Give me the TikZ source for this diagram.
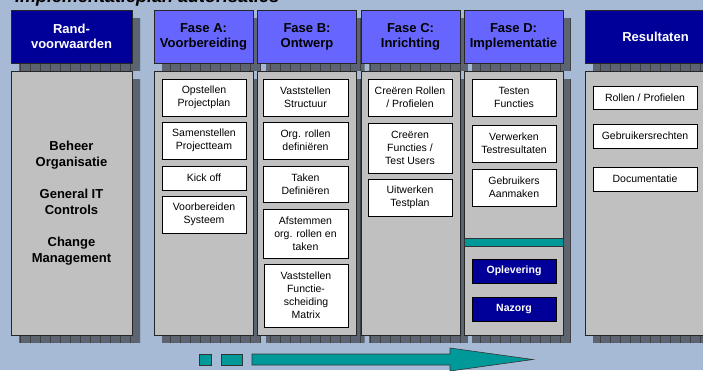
\documentclass[tikz,border=0pt]{standalone}
\usepackage{fontspec}
\setmainfont{Liberation Sans}
\definecolor{bg}{RGB}{166,186,214}
\definecolor{navy}{RGB}{0,0,153}
\definecolor{phase}{RGB}{102,102,255}
\definecolor{colgray}{RGB}{192,192,192}
\definecolor{tealc}{RGB}{0,153,153}
\definecolor{shad}{RGB}{92,100,114}
\newcommand{\shadowrect}[4]{%
  \begin{scope}
  \clip (#1+8,#2+8) rectangle (#3+8,#4+8);
  \fill[shad] (#1+8,#2+8) rectangle (#3+8,#4+8);
  \draw[black!75, line width=0.5pt, xstep=10, ystep=8] (#1+8,#2+8) grid (#3+8,#4+8);
  \end{scope}}
\tikzset{
  hdr/.style={draw=black!85, line width=0.8pt, fill=phase, align=center, inner sep=0pt,
    font=\bfseries\fontsize{13}{15}\selectfont, text=black},
  hdrdark/.style={hdr, fill=navy, text=white},
  column/.style={draw=black!85, line width=0.8pt, fill=colgray, inner sep=0pt},
  item/.style={draw=black, line width=0.8pt, fill=white, align=center, inner sep=0pt,
    font=\fontsize{10.5}{13}\selectfont},
  darkitem/.style={item, fill=navy, text=white, font=\bfseries\fontsize{10.5}{13}\selectfont},
  tealshape/.style={draw=black!80, line width=0.6pt, fill=tealc}
}
\begin{document}
\begin{tikzpicture}[x=1pt,y=-1pt]
\useasboundingbox (0,0) rectangle (703,370);
\clip (0,0) rectangle (703,370);
\fill[bg] (0,0) rectangle (703,370);

% title (partly cut off at top, as in the reference)
\node[anchor=base west, inner sep=0pt, font=\bfseries\itshape\fontsize{18}{20}\selectfont] (title) at (15,2.5) {Implementatieplan autorisaties};

% shadows
\shadowrect{11}{10}{132}{63}
\shadowrect{154}{10}{253}{63}
\shadowrect{257.5}{10}{356.5}{63}
\shadowrect{361}{10}{460}{63}
\shadowrect{464}{10}{563}{63}
\shadowrect{585}{10}{726}{63}
\shadowrect{11}{71}{132}{335}
\shadowrect{154}{71}{253}{335}
\shadowrect{257.5}{71}{356.5}{335}
\shadowrect{361}{71}{460}{335}
\shadowrect{464}{71}{563}{335}
\shadowrect{585}{71}{726}{335}

% headers
\node[hdrdark, minimum width=121pt, minimum height=53pt] (hrand) at (71.5,36.5) {Rand-\\voorwaarden};
\node[hdr, minimum width=99pt, minimum height=53pt] (ha) at (203.5,36.5) {Fase A:\\Voorbereiding};
\node[hdr, minimum width=99pt, minimum height=53pt] (hb) at (307,36.5) {Fase B:\\Ontwerp};
\node[hdr, minimum width=99pt, minimum height=53pt] (hc) at (410.5,36.5) {Fase C:\\Inrichting};
\node[hdr, minimum width=99pt, minimum height=53pt] (hd) at (513.5,36.5) {Fase D:\\Implementatie};
\node[hdrdark, minimum width=141pt, minimum height=53pt] (hres) at (655.5,36.5) {Resultaten};

% columns
\node[column, minimum width=121pt, minimum height=264pt, align=center,
  font=\bfseries\fontsize{13}{16}\selectfont] (crand) at (71.5,203) {Beheer\\Organisatie\\[16pt]General IT\\Controls\\[16pt]Change\\Management};
\node[column, minimum width=99pt, minimum height=264pt] (ca) at (203.5,203) {};
\node[column, minimum width=99pt, minimum height=264pt] (cb) at (307,203) {};
\node[column, minimum width=99pt, minimum height=264pt] (cc) at (410.5,203) {};
\node[column, minimum width=99pt, minimum height=264pt] (cd) at (513.5,203) {};
\node[column, minimum width=141pt, minimum height=264pt] (cres) at (655.5,203) {};

% Fase A items
\node[item, minimum width=84pt, minimum height=37pt] (a1) at (204,97.5) {Opstellen\\Projectplan};
\node[item, minimum width=84pt, minimum height=37pt] (a2) at (204,140.5) {Samenstellen\\Projectteam};
\node[item, minimum width=84pt, minimum height=24pt] (a3) at (204,178) {Kick off};
\node[item, minimum width=84pt, minimum height=37pt] (a4) at (204,214.5) {Voorbereiden\\Systeem};

% Fase B items
\node[item, minimum width=85pt, minimum height=37pt] (b1) at (305.5,97.5) {Vaststellen\\Structuur};
\node[item, minimum width=85pt, minimum height=37pt] (b2) at (305.5,140.5) {Org. rollen\\definiëren};
\node[item, minimum width=85pt, minimum height=36pt] (b3) at (305.5,184) {Taken\\Definiëren};
\node[item, minimum width=85pt, minimum height=49pt] (b4) at (305.5,233.5) {Afstemmen\\org. rollen en\\taken};
\node[item, minimum width=84pt, minimum height=63pt] (b5) at (306,295.5) {Vaststellen\\Functie-\\scheiding\\Matrix};

% Fase C items
\node[item, minimum width=84pt, minimum height=37pt] (c1) at (410,97.5) {Creëren Rollen\\/ Profielen};
\node[item, minimum width=84pt, minimum height=50pt] (c2) at (410,148) {Creëren\\Functies /\\Test Users};
\node[item, minimum width=84pt, minimum height=37pt] (c3) at (410,197.5) {Uitwerken\\Testplan};

% Fase D items
\node[item, minimum width=84pt, minimum height=37pt] (d1) at (514,97.5) {Testen\\Functies};
\node[item, minimum width=84pt, minimum height=37pt] (d2) at (514,143.5) {Verwerken\\Testresultaten};
\node[item, minimum width=84pt, minimum height=37pt] (d3) at (514,187.5) {Gebruikers\\Aanmaken};
\node[tealshape, minimum width=99pt, minimum height=8pt, inner sep=0pt] (dbar) at (513.5,242) {};
\node[darkitem, minimum width=84pt, minimum height=24pt] (d4) at (514,271) {Oplevering};
\node[darkitem, minimum width=84pt, minimum height=24pt] (d5) at (514,309) {Nazorg};

% Resultaten items
\node[item, minimum width=104pt, minimum height=23pt] (r1) at (645,97.5) {Rollen / Profielen};
\node[item, minimum width=104pt, minimum height=24pt] (r2) at (645,136) {Gebruikersrechten};
\node[item, minimum width=104pt, minimum height=24pt] (r3) at (645,179) {Documentatie};

% bottom progress arrow
\node[tealshape, minimum width=12pt, minimum height=11pt, inner sep=0pt] (p1) at (205,359.5) {};
\node[tealshape, minimum width=21pt, minimum height=11pt, inner sep=0pt] (p2) at (231.5,359.5) {};
\draw[tealshape] (252,354) -- (450,354) -- (450,348) -- (533,359.5) -- (450,371) -- (450,365) -- (252,365) -- cycle;
\end{tikzpicture}
\end{document}
